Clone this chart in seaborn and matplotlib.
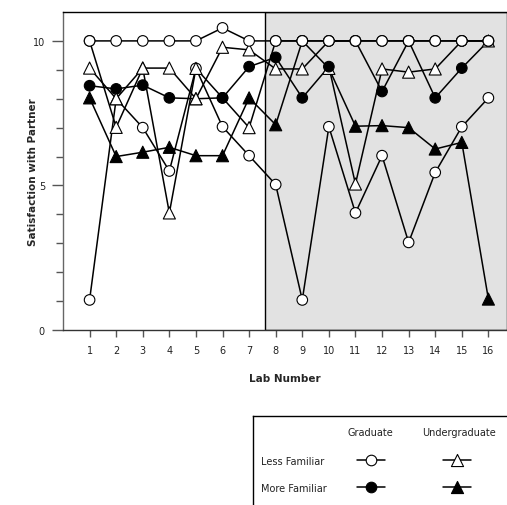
import pandas as pd
import seaborn as sns
import matplotlib.pyplot as plt

labs = list(range(1, 17))

# one line per student across the 16 labs; the marker says what kind of partner
# the student had in that lab:
# oc = graduate / less familiar, fc = graduate / more familiar
# ot = undergraduate / less familiar, ft = undergraduate / more familiar
s1_vals = [8.45, 8.34, 8.47, 8.03, 8.0, 8.03, 7.0, 10, 10, 10, 10, 8.25, 10, 8.03, 9.06, 10]
s1_kind = ['fc', 'fc', 'fc', 'fc', 'ot', 'fc', 'ot', 'oc', 'oc', 'oc', 'oc', 'fc', 'oc', 'fc', 'fc', 'ot']
s2_vals = [1.04, 8.0, 7.0, 5.5, 9.05, 7.03, 6.03, 5.03, 1.04, 7.03, 4.05, 6.03, 3.03, 5.45, 7.03, 8.03]
s2_kind = ['oc', 'ot', 'oc', 'oc', 'oc', 'oc', 'oc', 'oc', 'oc', 'oc', 'oc', 'oc', 'oc', 'oc', 'oc', 'oc']
s3_vals = [8.03, 6.0, 6.15, 6.32, 6.03, 6.03, 8.03, 7.1, 10, 9.05, 7.05, 7.07, 7.0, 6.26, 6.49, 1.07]
s3_kind = ['ft', 'ft', 'ft', 'ft', 'ft', 'ft', 'ft', 'ft', 'oc', 'ot', 'ft', 'ft', 'ft', 'ft', 'ft', 'ft']
s4_vals = [9.06, 8.0, 9.06, 9.06, 8.0, 9.78, 9.69, 9.03, 9.03, 10, 10, 10, 10, 10, 10, 10]
s4_kind = ['ot', 'ot', 'ot', 'ot', 'ot', 'ot', 'ot', 'ot', 'ot', 'oc', 'oc', 'oc', 'oc', 'oc', 'oc', 'oc']
s5_vals = [10, 7.01, 9.06, 4.05, 9.05, 8.03, 9.11, 9.43, 8.03, 9.11, 5.05, 9.03, 8.92, 9.03, 10, 10]
s5_kind = ['oc', 'ot', 'ot', 'ot', 'ot', 'fc', 'fc', 'fc', 'fc', 'fc', 'ot', 'ot', 'ot', 'ot', 'oc', 'oc']
s6_vals = [10, 10, 10, 10, 10, 10.45, 10, 10, 10, 10, 10, 10, 10, 10, 10, 10]
s6_kind = ['oc'] * 16

students = [('s1', s1_vals, s1_kind), ('s2', s2_vals, s2_kind), ('s3', s3_vals, s3_kind),
            ('s4', s4_vals, s4_kind), ('s5', s5_vals, s5_kind), ('s6', s6_vals, s6_kind)]

rows = []
for name, vals, kinds in students:
    for lab, v, k in zip(labs, vals, kinds):
        rows.append({'student': name, 'lab': lab, 'value': v, 'kind': k})
df = pd.DataFrame(rows)

marker_map = {'oc': 'o', 'fc': 'o', 'ot': '^', 'ft': '^'}
face_map = {'oc': 'white', 'fc': 'black', 'ot': 'white', 'ft': 'black'}
size_map = {'oc': 58, 'fc': 58, 'ot': 76, 'ft': 76}

sns.set_style('ticks')
plt.rcParams['font.family'] = ['DejaVu Sans']

fig = plt.figure(figsize=(5.07, 5.06), dpi=100)
ax = fig.add_axes([63 / 507, 175 / 506, 444 / 507, 318 / 506])

ax.set_xlim(0, 16.7)
ax.set_ylim(0, 11)
ax.axvspan(7.6, 16.7, facecolor='#e2e2e2', edgecolor='black', linewidth=1.0, zorder=0)

sns.lineplot(data=df, x='lab', y='value', units='student', estimator=None, sort=False,
             color='black', linewidth=1.1, legend=False, ax=ax, zorder=2)

for i, (name, vals, kinds) in enumerate(students):
    sub = df[df['student'] == name]
    sns.scatterplot(data=sub, x='lab', y='value', hue='kind', style='kind', size='kind',
                    palette=face_map, markers=marker_map, sizes=size_map,
                    edgecolor='black', linewidth=0.8, legend=False, ax=ax, zorder=3 + i)

ax.set_xticks(labs)
ax.set_yticks([0, 5, 10])
ax.set_yticks(range(0, 11), minor=True)
ax.tick_params(axis='both', which='both', direction='out', color='#555555',
               labelcolor='#222222', labelsize=7, width=1)
ax.tick_params(axis='y', which='major', length=8, pad=5)
ax.tick_params(axis='y', which='minor', length=5)
ax.tick_params(axis='x', length=5, pad=6)

ax.spines['left'].set_color('#666666')
ax.spines['bottom'].set_color('#333333')
ax.spines['top'].set_color('black')
ax.spines['right'].set_visible(False)
for s in ax.spines.values():
    s.set_linewidth(1)

ax.set_xlabel('Lab Number', fontsize=7.5, fontweight='bold')
ax.xaxis.set_label_coords(0.5, -0.135)
ax.set_ylabel('Satisfaction with Partner', fontsize=7.5, fontweight='bold')
ax.yaxis.set_label_coords(-0.056, 0.5)

# legend box: columns = partner status, rows = familiarity
lax = fig.add_axes([253 / 507, 0, 254 / 507, 89 / 506])
lax.set_xlim(0, 254)
lax.set_ylim(89, 0)
lax.set_xticks([])
lax.set_yticks([])
lax.set_facecolor('white')
for side in ['right', 'bottom']:
    lax.spines[side].set_visible(False)
for side in ['left', 'top']:
    lax.spines[side].set_color('black')
    lax.spines[side].set_linewidth(1)

tcol = '#222222'
lax.text(117, 16, 'Graduate', ha='center', va='center', fontsize=7, color=tcol)
lax.text(206, 16, 'Undergraduate', ha='center', va='center', fontsize=7, color=tcol)
lax.text(8, 45, 'Less Familiar', ha='left', va='center', fontsize=7, color=tcol)
lax.text(8, 72, 'More Familiar', ha='left', va='center', fontsize=7, color=tcol)
for kind, x, y in [('oc', 118, 44), ('ot', 204, 44), ('fc', 118, 71), ('ft', 204, 71)]:
    lax.plot([x - 14, x + 14], [y, y], color='black', linewidth=1.1)
    lax.scatter([x], [y], marker=marker_map[kind], s=size_map[kind], facecolor=face_map[kind],
                edgecolor='black', linewidth=0.8, zorder=3)

fig.savefig('out.png', dpi=100)
